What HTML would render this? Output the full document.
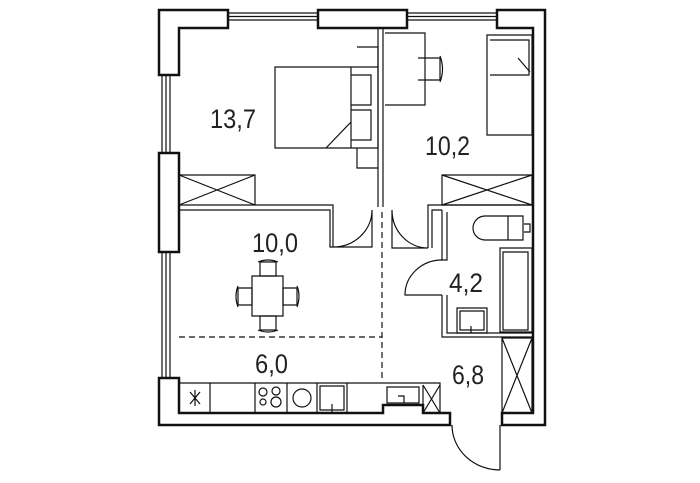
<!DOCTYPE html>
<html><head><meta charset="utf-8"><style>
html,body{margin:0;padding:0;background:#fff;width:700px;height:483px;overflow:hidden}
svg{display:block}
text{font-family:"Liberation Sans",sans-serif;fill:#222}
</style></head><body>
<svg width="700" height="483" viewBox="0 0 700 483" xmlns="http://www.w3.org/2000/svg">
<g fill="none" stroke="#111" stroke-width="1.2">
<path d="M159,10 H228 V28 H179 V75 H159 Z" fill="#fff" stroke-width="2.5"/>
<path d="M318,10 H407 V28 H318 Z" stroke-width="2.5"/>
<path d="M497,10 H545 V425 H502 V413 H533 V28 H497 Z" stroke-width="2.5"/>
<path d="M159,153 H179 V252 H159 Z" stroke-width="2.5"/>
<path d="M159,378 H179 V413 H383 V405 H423 V413 H450 V425 H159 Z" stroke-width="2.5"/>
<path d="M228,13 H318 M228,20 H318 M228,16.5 H318"/>
<path d="M407,13 H497 M407,20 H497 M407,16.5 H497"/>
<path d="M162,75 V153 M170,75 V153 M166,75 V153"/>
<path d="M162,252 V378 M170,252 V378 M166,252 V378"/>
<path d="M378,28 V207 M383,28 V207"/>
<path d="M179,205 H333 V247 M179,210 H330 V247 H333"/>
<path d="M428,248 V205 H533 M432,248 V210 H442"/>
<path d="M179,175 H255 V205 M179,175 L255,205 M255,175 L179,205"/>
<path d="M442,175 H532 V205 H442 Z M442,175 L532,205 M532,175 L442,205"/>
<path d="M333,247 H372 V210 M333,247 A39,37 0 0 0 372,210"/>
<path d="M428,248 H392 V210 M428,248 A36,38 0 0 1 392,210"/>
<path d="M382,212 V380" stroke-dasharray="6,4"/>
<path d="M179,337 H382" stroke-dasharray="6,4"/>
<path d="M442,210 V260 H447 V212 M442,295 V337 H533 M447,295 V333 H533"/>
<path d="M442,260 A37,35 0 0 0 405,295 H442 V295"/>
<path d="M500,248 H532 V332 H500 Z M503,252 H528 V330 H503 Z"/>
<path d="M485,216 H523 V240 H485 A12,12 0 0 1 485,216 Z M508,216 V240 M524,224 H530 V232 H524"/>
<path d="M457,308 H487 V333 H457 Z M460,311 H484 V330 H460 Z M471,326 V333"/>
<path d="M502,338 H532 V413 H502 Z M502,338 L532,413 M532,338 L502,413"/>
<path d="M500,425 V470 M452,425 A48,45 0 0 0 500,470"/>
<path d="M179,383 H440 V413 M210,383 V413 M255,383 V413 M287,383 V413 M317,383 V413 M347,383 V413"/>
<path d="M423,385 V413 M423,385 L440,413 M440,385 L423,413"/>
<path d="M387,387 H419 V403 H387 Z M398,396 H404 V403"/>
<circle cx="263" cy="392" r="4"/><circle cx="276" cy="391" r="4"/><circle cx="263" cy="402" r="3"/><circle cx="276" cy="402" r="5"/>
<circle cx="302" cy="398" r="9"/>
<path d="M320,386 H344 V410 H320 Z M332,404 V413"/>
<path d="M190,392 L200,404 M200,392 L190,404 M195,390 V406"/>
<path d="M275,67 H378 V148 H275 Z M351,67 V148 M351,75 H371 V105 H351 M351,110 H371 V140 H351 M351,122 L326,148"/>
<path d="M357,47 H378 V67 M357,148 V168 H378"/>
<path d="M385,33 H425 V105 H385 M418,58 H440 V80 H418 M440,56 Q445,69 440,82"/>
<path d="M487,35 H532 V135 H487 Z M490,40 H529 V75 H490 M518,58 L530,72"/>
<path d="M252,276 H283 V316 H252 Z"/>
<path d="M260,262 H276 V276 H260 Z M258,262 Q268,258 278,262"/>
<path d="M260,316 H276 V330 H260 Z M258,330 Q268,334 278,330"/>
<path d="M238,288 H252 V305 H238 Z M238,286 Q234,296 238,307"/>
<path d="M283,288 H297 V305 H283 Z M297,286 Q301,296 297,307"/>
</g>
<g font-size="27">
<text x="210" y="128" textLength="46" lengthAdjust="spacingAndGlyphs">13,7</text>
<text x="425" y="155" textLength="45" lengthAdjust="spacingAndGlyphs">10,2</text>
<text x="252" y="252" textLength="46" lengthAdjust="spacingAndGlyphs">10,0</text>
<text x="449" y="292" textLength="34" lengthAdjust="spacingAndGlyphs">4,2</text>
<text x="255" y="373" textLength="33" lengthAdjust="spacingAndGlyphs">6,0</text>
<text x="452" y="384" textLength="32" lengthAdjust="spacingAndGlyphs">6,8</text>
</g>
</svg>
</body></html>
